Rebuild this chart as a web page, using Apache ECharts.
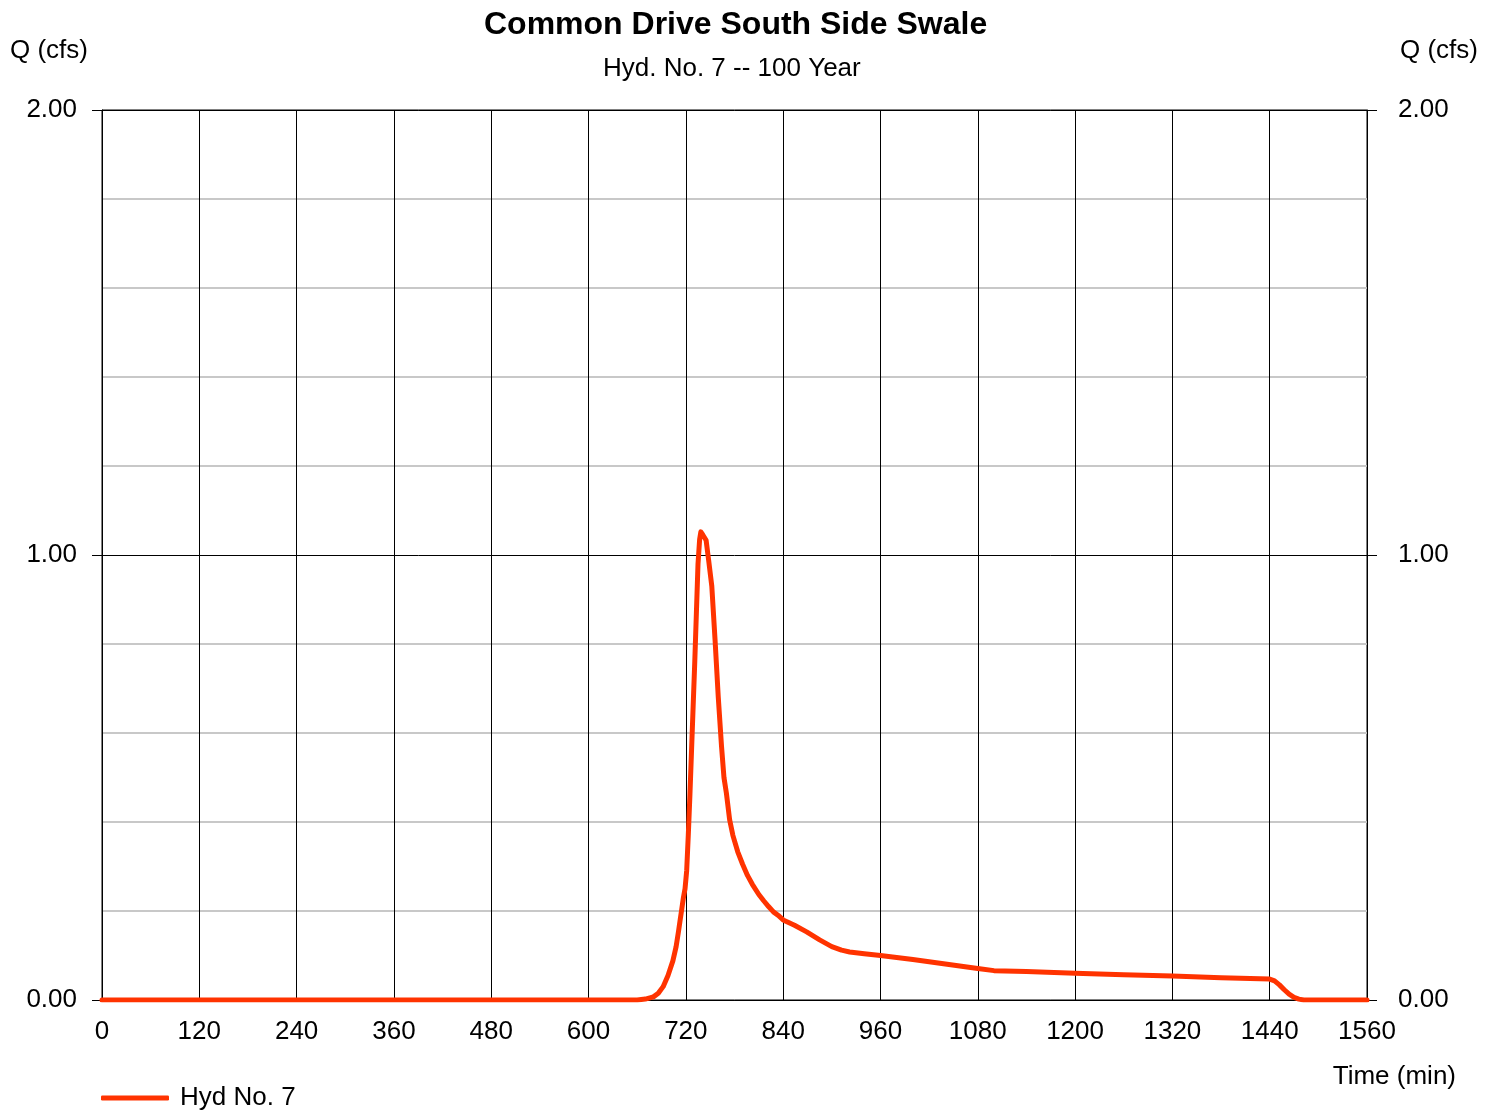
<!DOCTYPE html>
<html>
<head>
<meta charset="utf-8">
<script src="https://cdn.jsdelivr.net/npm/echarts@6/dist/echarts.min.js"></script>
<style>
html,body{margin:0;padding:0;background:#fff;}
#chart{width:1496px;height:1112px;}
</style>
</head>
<body>
<div id="chart"></div>
<script>
var titleText = 'Common Drive South Side Swale';
var subtitleText = 'Hyd. No. 7 -- 100 Year';
var seriesName = 'Hyd No. 7';
var xTicks = [0, 120, 240, 360, 480, 600, 720, 840, 960, 1080, 1200, 1320, 1440, 1560];
var yTicks = [0, 1, 2];
var times = [0, 660, 670, 680, 686, 692, 698, 704, 708, 711, 713, 715, 717, 719, 721, 723, 725, 727, 729, 731, 733, 735, 737, 738.5, 741, 745, 748, 752, 756, 760, 764, 767, 770, 774, 778, 784, 790, 796, 802, 810, 816, 822, 828, 834, 840, 854, 869, 885, 900, 912, 922, 940, 960, 1000, 1040, 1080, 1100, 1140, 1200, 1260, 1320, 1380, 1440, 1446, 1452, 1458, 1464, 1470, 1476, 1482, 1560];
var flows = [0, 0, 0.002, 0.007, 0.015, 0.03, 0.055, 0.088, 0.12, 0.155, 0.18, 0.205, 0.23, 0.25, 0.29, 0.37, 0.46, 0.56, 0.66, 0.76, 0.87, 0.98, 1.035, 1.052, 1.045, 1.033, 0.99, 0.93, 0.81, 0.68, 0.57, 0.5, 0.465, 0.405, 0.37, 0.333, 0.305, 0.28, 0.26, 0.237, 0.223, 0.21, 0.198, 0.19, 0.18, 0.168, 0.153, 0.135, 0.12, 0.112, 0.108, 0.104, 0.1, 0.091, 0.081, 0.071, 0.066, 0.064, 0.06, 0.057, 0.054, 0.05, 0.047, 0.043, 0.034, 0.023, 0.013, 0.006, 0.002, 0, 0];

var data = times.map(function (t, i) { return [t, flows[i]]; });
var FONT = '"Liberation Sans", Arial, sans-serif';
var FS = 26;

var chart = echarts.init(document.getElementById('chart'), null, {renderer: 'canvas'});
function yAxisDef(pos) {
  return {
    type: 'value', position: pos, min: yTicks[0], max: yTicks[yTicks.length - 1], interval: 1,
    axisLine: {show: true, lineStyle: {color: '#000', width: 1}},
    axisTick: {show: true, length: 10, lineStyle: {color: '#000', width: 1}},
    axisLabel: {show: true, margin: pos === 'left' ? 25 : 31, color: '#000', fontSize: FS, fontFamily: FONT,
      formatter: function (v) { return v.toFixed(2); }},
    splitLine: {show: pos === 'left', lineStyle: {color: '#000', width: 1}},
    minorTick: {show: false, splitNumber: 5},
    minorSplitLine: {show: pos === 'left', lineStyle: {color: '#c8c8c8', width: 2}}
  };
}
var option = {
  backgroundColor: '#fff',
  animation: false,
  title: [
    {text: titleText, left: 479, top: 4, textStyle: {fontFamily: FONT, fontSize: 32, fontWeight: 'bold', color: '#000'}},
    {text: subtitleText, left: 598, top: 51, textStyle: {fontFamily: FONT, fontSize: FS, fontWeight: 'normal', color: '#000'}}
  ],
  grid: {left: 102, right: 129, top: 110, bottom: 112, show: true, borderColor: '#000', borderWidth: 1, backgroundColor: 'transparent'},
  legend: {
    left: 96, top: 1080, itemWidth: 68, itemHeight: 5, icon: 'roundRect',
    data: [seriesName],
    textStyle: {fontFamily: FONT, fontSize: FS, color: '#000', padding: [0, 0, 0, 6]}
  },
  xAxis: {
    type: 'value', min: xTicks[0], max: xTicks[xTicks.length - 1], interval: 120,
    axisLine: {show: true, lineStyle: {color: '#000', width: 1}},
    axisTick: {show: false},
    axisLabel: {show: true, margin: 19, color: '#000', fontSize: FS, fontFamily: FONT,
      formatter: function (v) { return String(v); }},
    splitLine: {show: true, lineStyle: {color: '#000', width: 1}}
  },
  yAxis: [yAxisDef('left'), yAxisDef('right')],
  graphic: [
    {type: 'text', left: 10, top: 38, style: {text: 'Q (cfs)', fontFamily: FONT, fontSize: FS, fill: '#000'}},
    {type: 'text', right: 18, top: 38, style: {text: 'Q (cfs)', fontFamily: FONT, fontSize: FS, fill: '#000'}},
    {type: 'text', right: 40, top: 1064, style: {text: 'Time (min)', fontFamily: FONT, fontSize: FS, fill: '#000'}}
  ],
  series: [{
    name: seriesName, type: 'line', data: data, showSymbol: false, symbol: 'none', smooth: false,
    lineStyle: {color: '#ff3300', width: 5, cap: 'round', join: 'round'},
    itemStyle: {color: '#ff3300'},
    z: 5
  }]
};
chart.setOption(option);
</script>
</body>
</html>
